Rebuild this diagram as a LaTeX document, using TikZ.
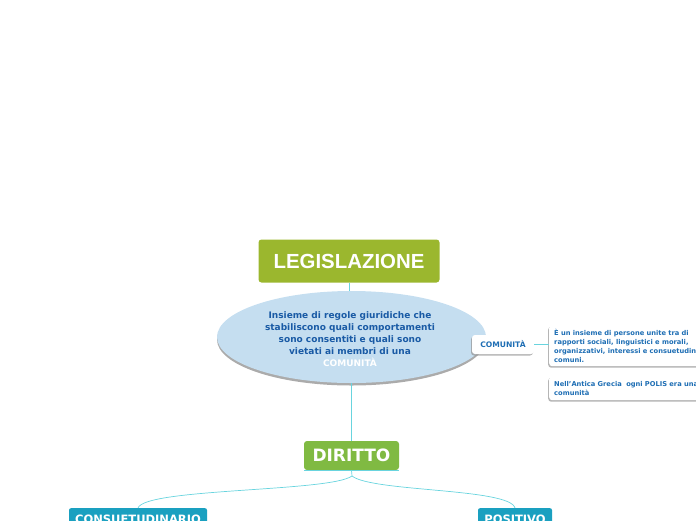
\documentclass[tikz,border=0pt]{standalone}
\usepackage{fontspec}
\setmainfont{DejaVu Sans}
\newfontfamily\arialf{Liberation Sans}
\usetikzlibrary{shadows,shapes.geometric}
\definecolor{legisgreen}{RGB}{155,183,46}
\definecolor{ellfill}{RGB}{197,222,240}
\definecolor{elltext}{RGB}{25,90,165}
\definecolor{dirgreen}{RGB}{128,186,66}
\definecolor{tealbox}{RGB}{26,160,192}
\definecolor{comtext}{RGB}{30,110,180}
\definecolor{conn}{RGB}{105,212,222}
\definecolor{shadowgray}{RGB}{150,150,150}
\tikzset{
  connline/.style={draw=conn, line width=1pt},
  greenbox/.style={rectangle, rounded corners=3pt, text=white, font=\bfseries, inner sep=0pt},
  tealnode/.style={rectangle, rounded corners=2pt, fill=tealbox, text=white, font=\bfseries\fontsize{11.5}{13}\selectfont, inner sep=0pt, anchor=north},
  whitebox/.style={rectangle, rounded corners=3pt, fill=white, inner sep=0pt,
    drop shadow={shadow xshift=-1pt, shadow yshift=-1.5pt, fill=shadowgray, opacity=0.7}},
}
\begin{document}
\begin{tikzpicture}[x=1pt, y=-1pt]
\useasboundingbox (0,0) rectangle (696,520);
\node[ellipse, fill=ellfill, minimum width=269pt, minimum height=92pt, inner sep=0pt,
  drop shadow={shadow xshift=0pt, shadow yshift=-2.5pt, fill=shadowgray, opacity=0.8}] (ell) at (351.5,337) {};
\node[greenbox, fill=legisgreen, minimum width=181pt, minimum height=43pt] (legis) at (349,261)
  {\arialf\bfseries\fontsize{20.4}{24}\selectfont LEGISLAZIONE};
\draw[connline] (legis.south) -- (legis.south |- ell.north);
\node[align=center, text=elltext, font=\bfseries\fontsize{9}{12}\selectfont, inner sep=0pt] (elltxt) at (350,339)
  {Insieme di regole giuridiche che\\stabiliscono quali comportamenti\\sono consentiti e quali sono\\vietati ai membri di una\\\textcolor{white}{COMUNITÀ}};
\node[greenbox, fill=dirgreen, minimum width=95pt, minimum height=29pt] (dir) at (351.5,455.5)
  {\fontsize{17}{20}\selectfont DIRITTO};
\draw[connline] (ell.south) -- (dir.north);
\draw[conn, line width=0.6pt] (dir.south west) -- (dir.south east);
\node[tealnode, minimum width=138pt, minimum height=22pt] (cons) at (138,508) {CONSUETUDINARIO};
\node[tealnode, minimum width=74pt, minimum height=22pt] (pos) at (515,508) {POSITIVO};
\coordinate (split) at (352,476);
\draw[connline, line width=0.7pt] (dir.south) -- (split)
  .. controls (330,492) and (145,488) .. (cons.north);
\draw[connline, line width=0.7pt] (split)
  .. controls (372,492) and (510,488) .. (pos.north);
\node[whitebox, minimum width=62pt, minimum height=19pt, text=comtext, font=\bfseries\fontsize{7.6}{9}\selectfont] (com) at (503,344.5) {COMUNITÀ};
\node[whitebox, anchor=north west, minimum width=200pt, minimum height=41pt, text width=190pt, align=left,
  text=comtext, font=\bfseries\fontsize{6.7}{9}\selectfont] (d1) at (549,325)
  {È un insieme di persone unite tra di\\rapporti sociali, linguistici e morali,\\organizzativi, interessi e consuetudini\\comuni.};
\node[whitebox, anchor=north west, minimum width=200pt, minimum height=24pt, text width=190pt, align=left,
  text=comtext, font=\bfseries\fontsize{6.7}{9}\selectfont] (d2) at (549,376)
  {Nell'Antica Grecia\ \ ogni POLIS era una\\comunità};
\draw[connline] (com.east) -- (com.east -| d1.west);
\end{tikzpicture}
\end{document}
